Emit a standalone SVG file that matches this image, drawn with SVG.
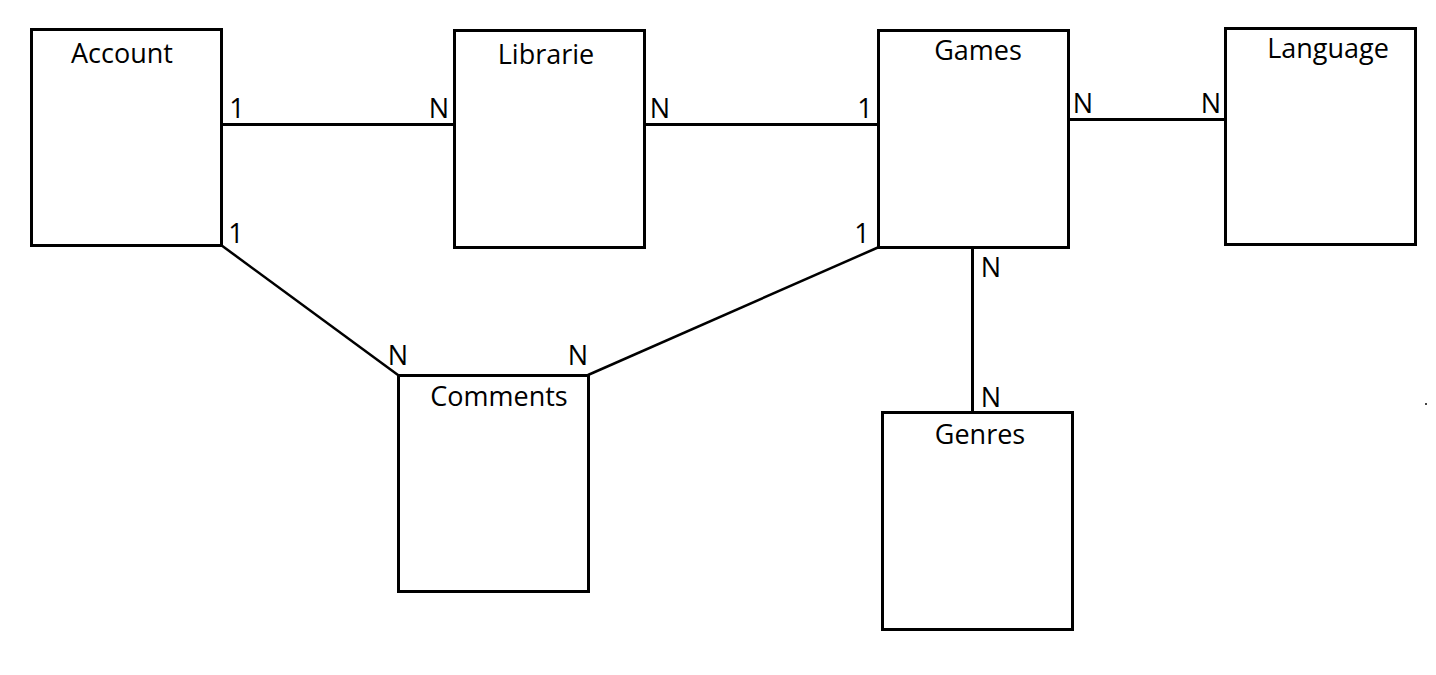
<svg xmlns="http://www.w3.org/2000/svg" width="1436" height="675" viewBox="0 0 1436 675">
<style>
.box{fill:#fff;stroke:#000;stroke-width:3}
.ln{stroke:#000;stroke-width:3;fill:none}
.dg{stroke:#000;stroke-width:2.5;fill:none}
text{font-family:"Open Sans","Noto Sans","Liberation Sans",sans-serif;font-size:27px;fill:#000;text-anchor:middle}
</style>
<rect width="1436" height="675" fill="#fff"/>
<g id="connectors">
<line class="ln" x1="220" y1="124.5" x2="454" y2="124.5"/>
<line class="ln" x1="644" y1="124.5" x2="878" y2="124.5"/>
<line class="ln" x1="1069" y1="119.5" x2="1225" y2="119.5"/>
<line class="dg" x1="221" y1="245" x2="398" y2="375"/>
<line class="dg" x1="588" y1="375" x2="879" y2="247"/>
<line class="ln" x1="972.5" y1="247" x2="972.5" y2="412"/>
<text x="237" y="118">1</text>
<text x="439" y="118">N</text>
<text x="660" y="118">N</text>
<text x="865" y="118">1</text>
<text x="1083" y="113">N</text>
<text x="1211" y="113">N</text>
<text x="236" y="243">1</text>
<text x="398" y="365">N</text>
<text x="578" y="365">N</text>
<text x="862" y="243">1</text>
<text x="991" y="277">N</text>
<text x="991" y="407">N</text>
</g>
<g id="account">
<rect class="box" x="31.5" y="29.5" width="190" height="216"/>
<text x="122" y="63">Account</text>
</g>
<g id="librarie">
<rect class="box" x="454.5" y="30.5" width="190" height="217"/>
<text x="546" y="64">Librarie</text>
</g>
<g id="games">
<rect class="box" x="878.5" y="30.5" width="190" height="217"/>
<text x="978" y="60">Games</text>
</g>
<g id="language">
<rect class="box" x="1225.5" y="28.5" width="190" height="216"/>
<text x="1328" y="58">Language</text>
</g>
<g id="comments">
<rect class="box" x="398.5" y="375.5" width="190" height="216"/>
<text x="499" y="406">Comments</text>
</g>
<g id="genres">
<rect class="box" x="882.5" y="412.5" width="190" height="217"/>
<text x="980" y="444">Genres</text>
</g>
<rect x="1425" y="403" width="2" height="2" fill="#444"/>
</svg>
